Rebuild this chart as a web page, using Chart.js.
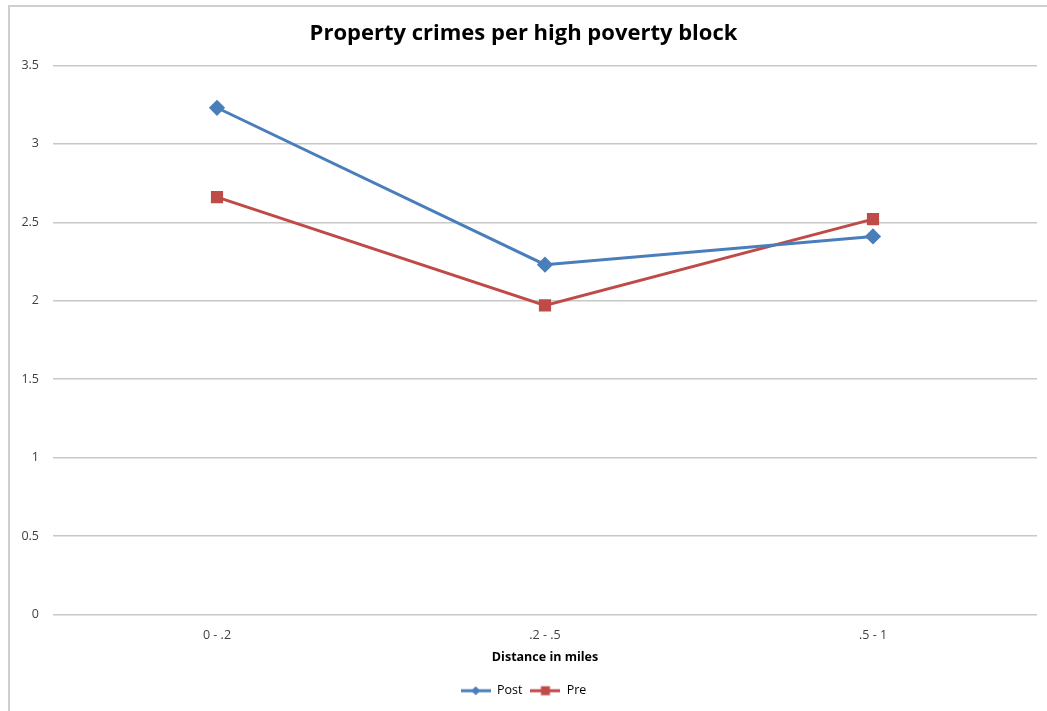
<!DOCTYPE html>
<html>
<head>
<meta charset="utf-8">
<script src="https://cdn.jsdelivr.net/npm/chart.js@4/dist/chart.umd.min.js"></script>
<style>
	html, body { margin: 0; padding: 0; background: #fff; }
	#frame {
		position: absolute; left: 8px; top: 5px;
		width: 1039px; height: 706px;
		border-left: 2px solid #cfcfcf; border-top: 2px solid #cfcfcf;
	}
	#chart-wrap { position: relative; width: 1037px; height: 704px; }
</style>
</head>
<body>
<div id="frame"><div id="chart-wrap"><canvas id="chart"></canvas></div></div>
<script>
const categories = ["0 - .2", ".2 - .5", ".5 - 1"];
const postValues = [3.23, 2.23, 2.41];
const preValues = [2.66, 1.97, 2.52];
const yTicks = [0, 0.5, 1, 1.5, 2, 2.5, 3, 3.5];

const blue = "#4a7ebb";
const red = "#be4b48";
const font = "'Open Sans', 'Liberation Sans', sans-serif";

// legend swatch: short line with the marker in the middle
function legendSwatch(color, shape) {
	const c = document.createElement("canvas");
	c.width = 30;
	c.height = 12;
	const g = c.getContext("2d");
	g.strokeStyle = color;
	g.lineWidth = 3;
	g.beginPath();
	g.moveTo(0, 6);
	g.lineTo(30, 6);
	g.stroke();
	g.fillStyle = color;
	g.beginPath();
	if (shape === "diamond") {
		g.moveTo(15, 1.5);
		g.lineTo(19.5, 6);
		g.lineTo(15, 10.5);
		g.lineTo(10.5, 6);
	} else {
		g.rect(10.5, 1.5, 9, 9);
	}
	g.fill();
	return c;
}

const swatches = {
	Post: legendSwatch(blue, "diamond"),
	Pre: legendSwatch(red, "square"),
};

new Chart(document.getElementById("chart"), {
	type: "line",
	data: {
		labels: categories,
		datasets: [
			{
				label: "Post",
				data: postValues,
				borderColor: blue,
				backgroundColor: blue,
				borderWidth: 3,
				pointStyle: "rectRot",
				pointRadius: 6,
				pointHoverRadius: 6,
			},
			{
				label: "Pre",
				data: preValues,
				borderColor: red,
				backgroundColor: red,
				borderWidth: 3,
				pointStyle: "rect",
				pointRadius: 6.5,
				pointHoverRadius: 6.5,
			},
		],
	},
	options: {
		responsive: true,
		maintainAspectRatio: false,
		animation: false,
		layout: { padding: { left: 0, right: 10, top: 0, bottom: 4 } },
		plugins: {
			title: {
				display: true,
				text: "Property crimes per high poverty block",
				color: "#000",
				font: { family: font, size: 22, weight: "bold" },
				padding: { top: 14, bottom: 18 },
			},
			legend: {
				position: "bottom",
				labels: {
					usePointStyle: true,
					pointStyleWidth: 30,
					color: "#404040",
					font: { family: font, size: 12.5 },
					padding: 8,
					generateLabels: (chart) =>
						chart.data.datasets.map((ds, i) => ({
							text: ds.label,
							pointStyle: swatches[ds.label],
							fillStyle: ds.borderColor,
							strokeStyle: ds.borderColor,
							lineWidth: 0,
							datasetIndex: i,
						})),
				},
			},
			tooltip: { enabled: false },
		},
		scales: {
			x: {
				offset: true,
				grid: { display: false },
				border: { display: false },
				ticks: { color: "#404040", font: { family: font, size: 12.5 }, padding: 5 },
				title: {
					display: true,
					text: "Distance in miles",
					color: "#000",
					font: { family: font, size: 12.5, weight: "bold" },
					padding: { top: 2, bottom: 12 },
				},
			},
			y: {
				min: 0,
				max: 3.5,
				afterBuildTicks: (axis) => {
					axis.ticks = yTicks.map((v) => ({ value: v }));
				},
				afterFit: (axis) => {
					axis.width = 43;
				},
				grid: { color: "#c8c8c8", lineWidth: 1.5, drawTicks: false },
				border: { display: false },
				ticks: {
					color: "#404040",
					font: { family: font, size: 12.5 },
					padding: 14,
					callback: (v) => String(v),
				},
			},
		},
	},
});
</script>
</body>
</html>
